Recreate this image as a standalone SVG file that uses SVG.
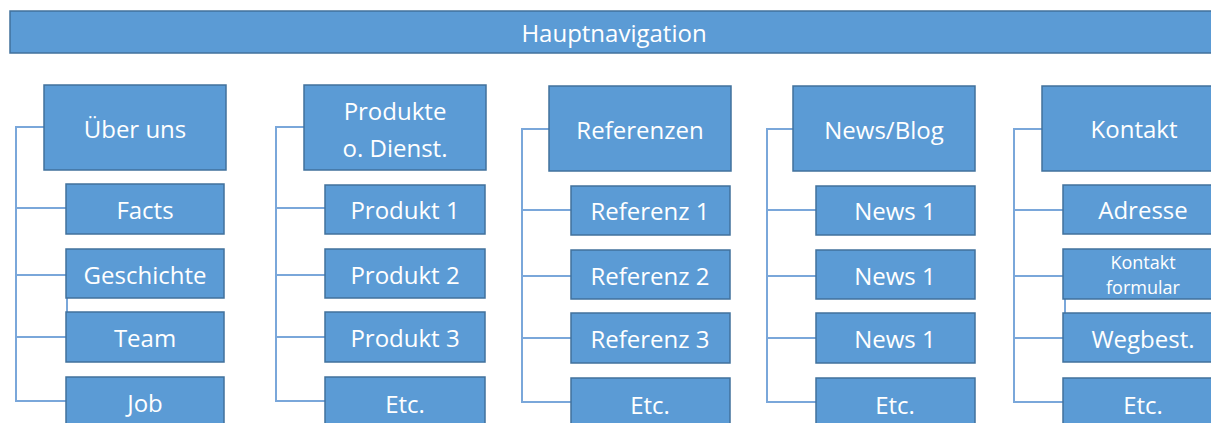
<svg xmlns="http://www.w3.org/2000/svg" width="1211" height="423" viewBox="0 0 1211 423">
<style>
.box{fill:#5b9bd5;stroke:#41719c;stroke-width:1.5}
.t{fill:#ffffff;font-family:"Open Sans","Noto Sans",sans-serif;font-size:24px;text-anchor:middle;dominant-baseline:central}
.tb{font-size:24px}
.ts{font-size:18px}
.c{fill:none;stroke:#7aa7da;stroke-width:2}
</style>
<rect width="1211" height="423" fill="#ffffff"/>
<g id="connectors">
<path class="c" d="M44,127H16V401H66M16,208H66M16,275H66M16,337H66M67,298V312"/>
<path class="c" d="M304,127H276V401H325M276,208H325M276,275H325M276,337H325"/>
<path class="c" d="M549,129H522V402H571M522,210H571M522,276H571M522,338H571"/>
<path class="c" d="M793,129H767V402H816M767,210H816M767,276H816M767,338H816"/>
<path class="c" d="M1042,129H1014V402H1063M1014,210H1063M1014,276H1063M1014,338H1063M1065,299V313"/>
</g>
<g id="hauptnavigation"><rect class="box" x="10" y="11" width="1210" height="42"/><text class="t" x="614" y="32">Hauptnavigation</text></g>
<g id="ueber-uns"><rect class="box" x="44" y="85" width="182" height="85"/><text class="t tb" x="135" y="128">Über uns</text></g>
<g id="facts"><rect class="box" x="66" y="184" width="158" height="50"/><text class="t" x="145" y="209">Facts</text></g>
<g id="geschichte"><rect class="box" x="66" y="249" width="158" height="49"/><text class="t" x="145" y="274">Geschichte</text></g>
<g id="team"><rect class="box" x="66" y="312" width="158" height="50"/><text class="t" x="145" y="337">Team</text></g>
<g id="job"><rect class="box" x="66" y="377" width="158" height="50"/><text class="t" x="145" y="402">Job</text></g>
<g id="produkte"><rect class="box" x="304" y="85" width="182" height="85"/><text class="t tb" x="395" y="110">Produkte</text><text class="t tb" x="395" y="147">o. Dienst.</text></g>
<g id="produkt1"><rect class="box" x="325" y="185" width="160" height="49"/><text class="t" x="405" y="209">Produkt 1</text></g>
<g id="produkt2"><rect class="box" x="325" y="249" width="160" height="49"/><text class="t" x="405" y="274">Produkt 2</text></g>
<g id="produkt3"><rect class="box" x="325" y="312" width="160" height="50"/><text class="t" x="405" y="337">Produkt 3</text></g>
<g id="etc2"><rect class="box" x="325" y="377" width="160" height="50"/><text class="t" x="405" y="403">Etc.</text></g>
<g id="referenzen"><rect class="box" x="549" y="86" width="182" height="85"/><text class="t tb" x="640" y="129">Referenzen</text></g>
<g id="referenz1"><rect class="box" x="571" y="186" width="159" height="49"/><text class="t" x="650" y="210">Referenz 1</text></g>
<g id="referenz2"><rect class="box" x="571" y="250" width="159" height="49"/><text class="t" x="650" y="275">Referenz 2</text></g>
<g id="referenz3"><rect class="box" x="571" y="313" width="159" height="50"/><text class="t" x="650" y="338">Referenz 3</text></g>
<g id="etc3"><rect class="box" x="571" y="378" width="159" height="50"/><text class="t" x="650" y="404">Etc.</text></g>
<g id="newsblog"><rect class="box" x="793" y="86" width="182" height="85"/><text class="t tb" x="884" y="129">News/Blog</text></g>
<g id="news1a"><rect class="box" x="816" y="186" width="159" height="49"/><text class="t" x="895" y="210">News 1</text></g>
<g id="news1b"><rect class="box" x="816" y="250" width="159" height="49"/><text class="t" x="895" y="275">News 1</text></g>
<g id="news1c"><rect class="box" x="816" y="313" width="159" height="50"/><text class="t" x="895" y="338">News 1</text></g>
<g id="etc4"><rect class="box" x="816" y="378" width="159" height="50"/><text class="t" x="895" y="404">Etc.</text></g>
<g id="kontakt"><rect class="box" x="1042" y="86" width="180" height="85"/><text class="t tb" x="1134" y="128">Kontakt</text></g>
<g id="adresse"><rect class="box" x="1063" y="185" width="158" height="49"/><text class="t" x="1143" y="209">Adresse</text></g>
<g id="kontaktformular"><rect class="box" x="1063" y="249" width="158" height="50"/><text class="t ts" x="1143" y="262">Kontakt</text><text class="t ts" x="1143" y="287">formular</text></g>
<g id="wegbest"><rect class="box" x="1063" y="313" width="158" height="49"/><text class="t" x="1143" y="338">Wegbest.</text></g>
<g id="etc5"><rect class="box" x="1063" y="378" width="158" height="50"/><text class="t" x="1143" y="404">Etc.</text></g>
</svg>
